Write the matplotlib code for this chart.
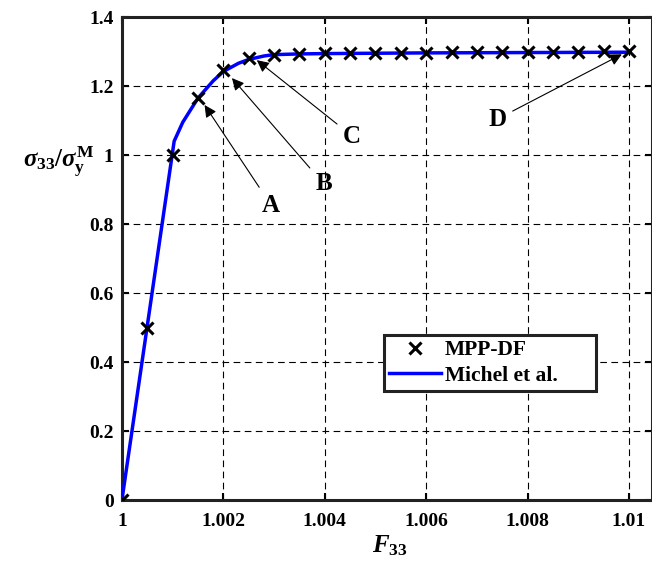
import matplotlib
matplotlib.use("Agg")
import matplotlib.pyplot as plt

plt.rcParams["font.family"] = "Liberation Serif"
plt.rcParams["font.weight"] = "bold"
plt.rcParams["mathtext.fontset"] = "custom"
plt.rcParams["mathtext.rm"] = "Liberation Serif:bold"
plt.rcParams["mathtext.bf"] = "Liberation Serif:bold"
plt.rcParams["mathtext.it"] = "Liberation Serif:italic:bold"

# MPP-DF results (markers)
mpp_x = [1.0, 1.0005, 1.001, 1.0015, 1.002, 1.0025, 1.003, 1.0035, 1.004,
         1.0045, 1.005, 1.0055, 1.006, 1.0065, 1.007, 1.0075, 1.008,
         1.0085, 1.009, 1.0095, 1.01]
mpp_y = [0.0, 0.50, 1.00, 1.165, 1.246, 1.282, 1.291, 1.294, 1.295,
         1.296, 1.296, 1.297, 1.297, 1.298, 1.298, 1.299, 1.299,
         1.300, 1.300, 1.301, 1.302]

# Michel et al. reference curve
michel_x = [1.0, 1.00103, 1.0012, 1.0015, 1.0018, 1.002, 1.0023, 1.0025,
            1.0028, 1.003, 1.0035, 1.004, 1.005, 1.006, 1.008, 1.01]
michel_y = [0.0, 1.04, 1.095, 1.165, 1.215, 1.242, 1.266, 1.277,
            1.287, 1.291, 1.293, 1.294, 1.295, 1.296, 1.297, 1.298]

# annotation labels: (text, text position, arrow tip)
labels = ["A", "B", "C", "D"]
label_pos = [(1.00294, 0.855), (1.00398, 0.916), (1.00454, 1.055), (1.0074, 1.104)]
arrow_tip = [(1.00163, 1.145), (1.00217, 1.223), (1.00266, 1.275), (1.00986, 1.292)]

fig = plt.figure(figsize=(6.52, 5.71), dpi=100)
ax = fig.add_axes([0.187, 0.1243, 0.813, 0.8459])

line, = ax.plot(michel_x, michel_y, color="#0000ff", lw=2.5, label="Michel et al.", zorder=3)
marks, = ax.plot(mpp_x, mpp_y, ls="none", marker="x", ms=8, mew=2.2, color="black",
                 label="MPP-DF", zorder=4)

for lab, (tx, ty), (px, py) in zip(labels, label_pos, arrow_tip):
    ax.annotate(lab, xy=(px, py), xytext=(tx, ty), ha="center", va="center",
                fontsize=18, fontweight="bold",
                arrowprops=dict(arrowstyle="-|>", color="black", lw=0.8,
                                mutation_scale=18, shrinkA=3, shrinkB=0))

ax.set_xlim(1.0, 1.010454)
ax.set_ylim(0, 1.4)
ax.set_xticks([1.0, 1.002, 1.004, 1.006, 1.008, 1.01])
ax.set_xticklabels(["1", "1.002", "1.004", "1.006", "1.008", "1.01"])
ax.set_yticks([0, 0.2, 0.4, 0.6, 0.8, 1.0, 1.2, 1.4])
ax.set_yticklabels(["0", "0.2", "0.4", "0.6", "0.8", "1", "1.2", "1.4"])
ax.tick_params(direction="in", labelsize=14, width=1.5, length=5,
               top=True, right=True, pad=6)
ax.tick_params(axis="x", pad=9)
for lbl in ax.get_xticklabels() + ax.get_yticklabels():
    lbl.set_fontweight("bold")

ax.grid(True, color="black", ls=(0, (6, 4)), lw=0.8)
for sp in ax.spines.values():
    sp.set_linewidth(2.2)
    sp.set_color("#222222")

ax.set_xlabel(r"$F_{33}$", fontsize=18, va="center")
ax.xaxis.set_label_coords(0.505, -0.095)
ax.set_ylabel(r"$\sigma_{\mathrm{33}}/\sigma_{\mathrm{y}}^{\mathrm{M}}$",
              fontsize=18, rotation=0, ha="center", va="center")
ax.yaxis.set_label_coords(-0.12, 0.7)

# trailing spaces give the wider box seen in the reference
leg = ax.legend([marks, line], ["MPP-DF", "Michel et al.      "],
                loc="upper left", bbox_to_anchor=(0.494, 0.342),
                borderaxespad=0, fontsize=15.5, fancybox=False,
                framealpha=1, edgecolor="#222222", handlelength=2.4,
                borderpad=0.25, labelspacing=0.25, handletextpad=0.2)
leg.get_frame().set_linewidth(2.2)
for t in leg.get_texts():
    t.set_fontweight("bold")

fig.savefig("out.png", dpi=100)
